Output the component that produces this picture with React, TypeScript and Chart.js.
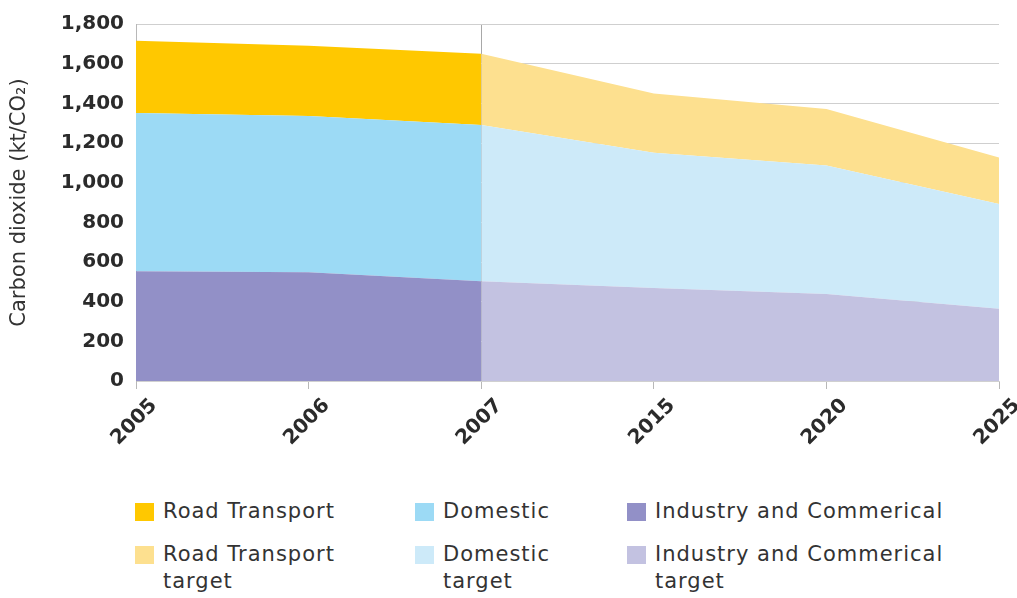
import React, { useEffect, useRef } from "react";
import { Chart, registerables } from "chart.js";

Chart.register(...registerables);

const years = ["2005", "2006", "2007", "2015", "2020", "2025"];

const industryActual = [553, 548, 503, null, null, null];
const domesticActual = [798, 788, 788, null, null, null];
const roadActual = [364, 354, 359, null, null, null];

const industryTarget = [null, null, 503, 469, 439, 364];
const domesticTarget = [null, null, 788, 682, 648, 528];
const roadTarget = [null, null, 359, 299, 284, 235];

const yTicks = [0, 200, 400, 600, 800, 1000, 1200, 1400, 1600, 1800];

const colors = {
  road: "#FFC800",
  roadT: "#FDE08F",
  dom: "#9CDAF5",
  domT: "#CDEAF9",
  ind: "#9290C7",
  indT: "#C3C2E1",
};

const legendItems = [
  { lines: ["Road Transport"], color: colors.road, col: 0, row: 0 },
  { lines: ["Domestic"], color: colors.dom, col: 1, row: 0 },
  { lines: ["Industry and Commerical"], color: colors.ind, col: 2, row: 0 },
  { lines: ["Road Transport", "target"], color: colors.roadT, col: 0, row: 1 },
  { lines: ["Domestic", "target"], color: colors.domT, col: 1, row: 1 },
  { lines: ["Industry and Commerical", "target"], color: colors.indT, col: 2, row: 1 },
];

const FONT = "'DejaVu Sans', sans-serif";

export default function App() {
  const ref = useRef<HTMLCanvasElement>(null);

  useEffect(() => {
    if (!ref.current) return;
    const mk = (label: string, data: any[], color: string, stack: string, fill: any) => ({
      label,
      data,
      backgroundColor: color,
      borderColor: color,
      borderWidth: 0,
      pointRadius: 0,
      pointHoverRadius: 0,
      tension: 0,
      fill,
      stack,
    });
    const chart = new Chart(ref.current, {
      type: "line",
      data: {
        labels: years,
        datasets: [
          mk("Industry and Commerical", industryActual, colors.ind, "a", "origin"),
          mk("Domestic", domesticActual, colors.dom, "a", "-1"),
          mk("Road Transport", roadActual, colors.road, "a", "-1"),
          mk("Industry and Commerical target", industryTarget, colors.indT, "t", "origin"),
          mk("Domestic target", domesticTarget, colors.domT, "t", "-1"),
          mk("Road Transport target", roadTarget, colors.roadT, "t", "-1"),
        ],
      },
      options: {
        animation: false,
        responsive: true,
        maintainAspectRatio: false,
        layout: { padding: { top: 20, right: 18, left: 0, bottom: 0 } },
        plugins: { legend: { display: false }, tooltip: { enabled: false } },
        scales: {
          x: {
            type: "category",
            offset: false,
            z: 1,
            grid: {
              color: (c: any) => (c.index === 2 ? "#a8a8a8" : "rgba(0,0,0,0)"),
              tickColor: "#b8b8b8",
              tickLength: 8,
              lineWidth: 1,
            },
            border: { display: true, color: "#d0d0d0" },
            ticks: {
              maxRotation: 45,
              minRotation: 45,
              autoSkip: false,
              labelOffset: 18,
              padding: 5,
              color: "#2b2b2b",
              font: { family: FONT, size: 20, weight: "bold" },
            },
            afterFit: (s: any) => {
              s.height = 89;
              s.paddingLeft = 0;
              s.paddingRight = 0;
            },
          },
          y: {
            stacked: true,
            min: 0,
            max: 1800,
            afterBuildTicks: (s: any) => {
              s.ticks = yTicks.map((v) => ({ value: v }));
            },
            grid: { color: "#cfcfcf", lineWidth: 1, drawTicks: false },
            border: { display: true, color: "#b8b8b8" },
            ticks: {
              padding: 12,
              color: "#2b2b2b",
              font: { family: FONT, size: 20, weight: "bold" },
              callback: (v: any) => Number(v).toLocaleString("en-US"),
            },
            title: {
              display: true,
              text: "Carbon dioxide (kt/CO₂)",
              color: "#333",
              font: { family: FONT, size: 21 },
              padding: { top: 7, bottom: 0 },
            },
            afterFit: (s: any) => {
              s.width = 136;
            },
          },
        },
      },
    });
    return () => chart.destroy();
  }, []);

  return (
    <div
      style={{
        position: "absolute",
        left: 0,
        top: 0,
        width: 1017,
        height: 598,
        background: "#fff",
        fontFamily: FONT,
      }}
    >
      <div style={{ position: "absolute", left: 0, top: 0, width: 1017, height: 470 }}>
        <canvas ref={ref} />
      </div>
      {legendItems.map((it, i) => {
        const swX = [135, 415, 627][it.col];
        const txX = [163, 443, 655][it.col];
        const top = it.row === 0 ? 498 : 541;
        return (
          <React.Fragment key={i}>
            <div
              style={{
                position: "absolute",
                left: swX,
                top: top + 5,
                width: 19,
                height: 18,
                background: it.color,
              }}
            />
            <div
              style={{
                position: "absolute",
                left: txX,
                top: top,
                fontSize: 21,
                letterSpacing: "1px",
                lineHeight: "27px",
                color: "#333",
                whiteSpace: "nowrap",
              }}
            >
              {it.lines.map((l, j) => (
                <div key={j}>{l}</div>
              ))}
            </div>
          </React.Fragment>
        );
      })}
    </div>
  );
}
